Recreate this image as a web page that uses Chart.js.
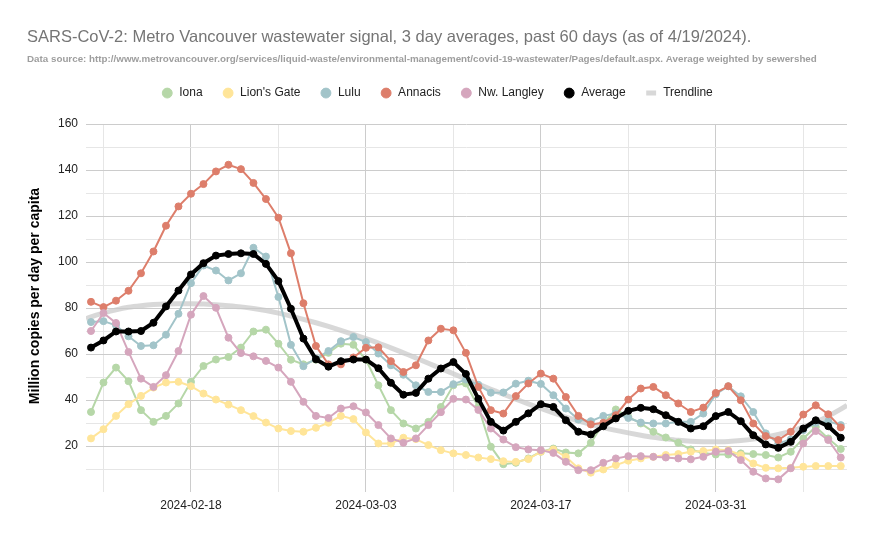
<!DOCTYPE html>
<html>
<head>
<meta charset="utf-8">
<script src="https://cdn.jsdelivr.net/npm/chart.js@4.4.1/dist/chart.umd.min.js"></script>
<style>
  html, body { margin: 0; padding: 0; background: #fff; }
  #wrap { width: 873px; height: 539px; position: relative; }
</style>
</head>
<body>
<div id="wrap"><canvas id="chart"></canvas></div>
<script>
const dates = [
  "2024-02-10", "2024-02-11", "2024-02-12", "2024-02-13", "2024-02-14", "2024-02-15", "2024-02-16",
  "2024-02-17", "2024-02-18", "2024-02-19", "2024-02-20", "2024-02-21", "2024-02-22", "2024-02-23",
  "2024-02-24", "2024-02-25", "2024-02-26", "2024-02-27", "2024-02-28", "2024-02-29", "2024-03-01",
  "2024-03-02", "2024-03-03", "2024-03-04", "2024-03-05", "2024-03-06", "2024-03-07", "2024-03-08",
  "2024-03-09", "2024-03-10", "2024-03-11", "2024-03-12", "2024-03-13", "2024-03-14", "2024-03-15",
  "2024-03-16", "2024-03-17", "2024-03-18", "2024-03-19", "2024-03-20", "2024-03-21", "2024-03-22",
  "2024-03-23", "2024-03-24", "2024-03-25", "2024-03-26", "2024-03-27", "2024-03-28", "2024-03-29",
  "2024-03-30", "2024-03-31", "2024-04-01", "2024-04-02", "2024-04-03", "2024-04-04", "2024-04-05",
  "2024-04-06", "2024-04-07", "2024-04-08", "2024-04-09", "2024-04-10"
]

const iona = [
  34.8, 47.6, 54.1, 48.2, 35.6, 30.5, 33.1, 38.5, 47.9, 54.8, 57.6, 58.7, 62.8, 69.8, 70.6,
  64.5, 57.5, 55.5, 57.5, 60.5, 64.5, 64.0, 57.5, 46.4, 35.6, 29.8, 27.6, 30.5, 37.0, 46.4,
  47.2, 37.0, 19.7, 12.1, 12.7, 14.6, 17.5, 18.9, 17.2, 16.8, 21.4, 29.8, 35.9, 32.7, 29.8,
  26.2, 23.7, 21.4, 18.5, 17.0, 16.3, 16.3, 16.8, 16.5, 16.1, 15.0, 17.5, 23.3, 28.3, 23.3, 18.7
]
const lionsGate = [
  23.3, 27.3, 33.1, 38.2, 41.8, 45.4, 47.6, 47.9, 46.0, 42.8, 40.2, 38.0, 35.6, 33.0, 30.2,
  27.6, 26.5, 26.2, 27.9, 30.1, 33.1, 31.7, 25.9, 21.1, 21.1, 23.6, 23.0, 20.4, 18.2, 16.8,
  16.1, 15.0, 14.3, 13.4, 13.1, 14.3, 17.5, 18.5, 15.3, 10.3, 8.4, 9.8, 11.7, 13.6, 14.6,
  15.3, 16.1, 16.5, 17.5, 17.8, 18.5, 18.2, 16.1, 12.4, 10.5, 10.3, 10.5, 11.0, 11.3, 11.3, 11.3
]
const lulu = [
  73.9, 74.3, 72.5, 67.7, 63.5, 63.8, 68.4, 77.5, 90.8, 98.5, 96.3, 92.0, 95.1, 106.2, 102.4,
  84.8, 64.0, 54.7, 58.0, 61.3, 65.6, 67.4, 65.2, 60.2, 55.1, 51.0, 46.4, 43.5, 43.5, 46.9,
  48.9, 46.6, 43.2, 43.3, 47.1, 48.4, 47.0, 42.1, 36.3, 31.5, 30.8, 33.1, 34.1, 32.2, 30.2,
  29.8, 29.8, 30.5, 30.5, 34.1, 42.5, 46.0, 41.6, 34.8, 25.5, 21.1, 22.9, 26.9, 30.1, 30.8, 29.1
]
const annacis = [
  82.7, 80.4, 83.2, 87.5, 95.1, 104.6, 115.8, 124.2, 129.7, 133.9, 139.4, 142.3, 140.4, 134.4, 127.4,
  119.3, 103.8, 82.1, 63.5, 55.5, 55.5, 58.5, 62.7, 62.9, 56.9, 52.2, 55.1, 65.9, 71.0, 70.3,
  60.5, 45.7, 35.6, 34.1, 41.7, 47.2, 51.5, 49.3, 41.3, 33.1, 29.4, 30.1, 33.4, 40.2, 45.0,
  45.7, 42.1, 38.5, 34.8, 36.7, 43.1, 46.0, 39.9, 29.8, 24.3, 22.6, 26.2, 33.7, 37.7, 33.8, 28.1
]
const nwLangley = [
  70.0, 77.8, 73.5, 60.9, 49.3, 45.7, 50.8, 61.3, 77.1, 85.2, 80.1, 67.1, 60.4, 59.0, 57.0,
  54.1, 47.9, 39.2, 33.1, 32.2, 36.3, 37.3, 34.6, 29.1, 23.3, 21.4, 23.3, 29.1, 34.7, 40.5,
  40.2, 35.7, 27.6, 22.8, 19.5, 18.5, 18.2, 17.0, 13.1, 9.5, 9.5, 12.7, 14.6, 15.6, 15.6,
  15.3, 15.0, 14.6, 14.2, 15.3, 17.5, 17.8, 13.9, 8.8, 5.9, 5.5, 10.3, 21.1, 26.5, 22.6, 15.0
]
const average = [
  62.8, 65.9, 69.8, 69.8, 70.0, 73.6, 80.7, 87.6, 94.6, 99.5, 102.8, 103.5, 103.8, 103.5, 99.2,
  91.7, 79.7, 66.7, 57.7, 54.5, 56.9, 57.6, 57.6, 53.8, 47.5, 42.3, 43.1, 49.3, 53.7, 56.5,
  51.3, 40.5, 30.5, 26.7, 30.5, 34.2, 38.2, 37.0, 31.2, 26.2, 25.0, 28.6, 32.0, 35.3, 36.6,
  36.0, 33.4, 30.5, 27.6, 28.6, 33.0, 34.8, 30.8, 24.7, 20.7, 19.2, 21.8, 27.6, 31.2, 28.6, 23.6
]
// polynomial trendline, plus its values at the two plot edges
const trendline = [
  76.2, 77.8, 79.2, 80.3, 81.0, 81.5, 81.8, 81.9, 81.9, 81.7, 81.4, 81.0, 80.5, 79.8, 78.9,
  77.8, 76.5, 75.1, 73.6, 72.0, 70.3, 68.5, 66.7, 64.8, 62.7, 60.5, 58.3, 56.0, 53.7, 51.4,
  49.1, 46.9, 44.7, 42.5, 40.4, 38.3, 36.3, 34.4, 32.6, 30.9, 29.4, 28.0, 26.8, 25.7, 24.7,
  23.8, 23.1, 22.5, 22.1, 21.9, 21.8, 22.0, 22.4, 23.0, 23.9, 25.0, 26.4, 28.2, 30.4, 33.0, 36.0
]
const trendStart = 75.4
const trendEnd = 37.7

const xTickLabels = ["2024-02-18", "2024-03-03", "2024-03-17", "2024-03-31"]
const xMinorTicks = ["2024-02-11", "2024-02-25", "2024-03-10", "2024-03-24", "2024-04-07"]
const yTickLabels = [20, 40, 60, 80, 100, 120, 140, 160]
const yTitle = "Million copies per day per capita"

const X_MIN = -0.4
const X_MAX = 60.5

const majorIdx = xTickLabels.map(d => dates.indexOf(d))
const allIdx = majorIdx.concat(xMinorTicks.map(d => dates.indexOf(d))).sort((a, b) => a - b)

const pts = arr => arr.map((v, i) => ({ x: i, y: v }))

const series = (label, data, color, order) => ({
  label,
  data: pts(data),
  borderColor: color,
  backgroundColor: color,
  borderWidth: 2,
  pointRadius: 3.5,
  pointBorderWidth: 1,
  pointStyle: "circle",
  tension: 0,
  order
})

Chart.defaults.font.family = '"Liberation Sans", Arial, sans-serif'

// push the plot area down below the legend
const legendSpacer = {
  id: "legendSpacer",
  beforeInit(chart) {
    const fit = chart.legend.fit
    chart.legend.fit = function () {
      fit.call(this)
      this.height += 15
    }
  }
}

// y axis title, sitting a little above the axis centre like the original
const yTitlePlugin = {
  id: "yTitle",
  afterDraw(chart) {
    const { ctx } = chart
    ctx.save()
    ctx.translate(35, 296)
    ctx.rotate(-Math.PI / 2)
    ctx.font = 'bold 14px "Liberation Sans", Arial, sans-serif'
    ctx.fillStyle = "#000000"
    ctx.textAlign = "center"
    ctx.textBaseline = "middle"
    ctx.fillText(yTitle, 0, 0)
    ctx.restore()
  }
}

new Chart(document.getElementById("chart"), {
  type: "line",
  data: {
    datasets: [
      series("Iona", iona, "#b6d7a8", 5),
      series("Lion's Gate", lionsGate, "#ffe599", 4),
      series("Lulu", lulu, "#a2c4c9", 3),
      series("Annacis", annacis, "#dd7e6b", 2),
      series("Nw. Langley", nwLangley, "#d5a6bd", 1),
      {
        label: "Average",
        data: pts(average),
        borderColor: "#000000",
        backgroundColor: "#000000",
        borderWidth: 4,
        pointRadius: 3.5,
        pointBorderWidth: 1,
        pointStyle: "circle",
        order: 0
      },
      {
        label: "Trendline",
        data: [{ x: X_MIN, y: trendStart }].concat(pts(trendline), [{ x: X_MAX, y: trendEnd }]),
        borderColor: "rgba(200,200,200,0.7)",
        backgroundColor: "rgba(200,200,200,0.7)",
        borderWidth: 5,
        pointRadius: 0,
        pointStyle: "line",
        cubicInterpolationMode: "monotone",
        order: 6
      }
    ]
  },
  options: {
    responsive: true,
    maintainAspectRatio: false,
    animation: false,
    layout: { padding: { left: 27, right: 26, top: 0, bottom: 0 } },
    plugins: {
      title: {
        display: true,
        text: "SARS-CoV-2: Metro Vancouver wastewater signal, 3 day averages, past 60 days (as of 4/19/2024).",
        align: "start",
        color: "#757575",
        font: { size: 16.5, weight: "normal" },
        padding: { top: 28, bottom: 0 }
      },
      subtitle: {
        display: true,
        text: "Data source: http://www.metrovancouver.org/services/liquid-waste/environmental-management/covid-19-wastewater/Pages/default.aspx. Average weighted by sewershed",
        align: "start",
        color: "#9e9e9e",
        font: { size: 9.8, weight: "bold" },
        padding: { top: 6, bottom: 2 }
      },
      legend: {
        position: "top",
        align: "center",
        labels: {
          usePointStyle: true,
          boxWidth: 12,
          boxHeight: 7,
          padding: 19.5,
          color: "#222222",
          font: { size: 12 },
          sort: (a, b) => a.datasetIndex - b.datasetIndex
        }
      },
      tooltip: { enabled: false }
    },
    scales: {
      x: {
        type: "linear",
        min: X_MIN,
        max: X_MAX,
        border: { display: false },
        grid: {
          drawTicks: false,
          color: c => majorIdx.includes(c.tick.value) ? "#cccccc" : "#e6e6e6"
        },
        afterBuildTicks: s => { s.ticks = allIdx.map(v => ({ value: v })) },
        ticks: {
          autoSkip: false,
          maxRotation: 0,
          padding: 6,
          color: "#222222",
          font: { size: 12 },
          callback: v => majorIdx.includes(v) ? dates[v] : ""
        },
        afterFit: s => { s.height = 47 }
      },
      y: {
        min: 0,
        max: 160,
        border: { display: false },
        grid: {
          drawTicks: false,
          color: c => c.tick.value === 0 ? "rgba(0,0,0,0)" : (c.tick.value % 20 === 0 ? "#cccccc" : "#e6e6e6")
        },
        ticks: {
          stepSize: 10,
          padding: 8,
          color: "#222222",
          font: { size: 12 },
          callback: v => yTickLabels.includes(v) ? v : ""
        },
        afterFit: s => { s.width = 59 }
      }
    }
  },
  plugins: [legendSpacer, yTitlePlugin]
})
</script>
</body>
</html>
